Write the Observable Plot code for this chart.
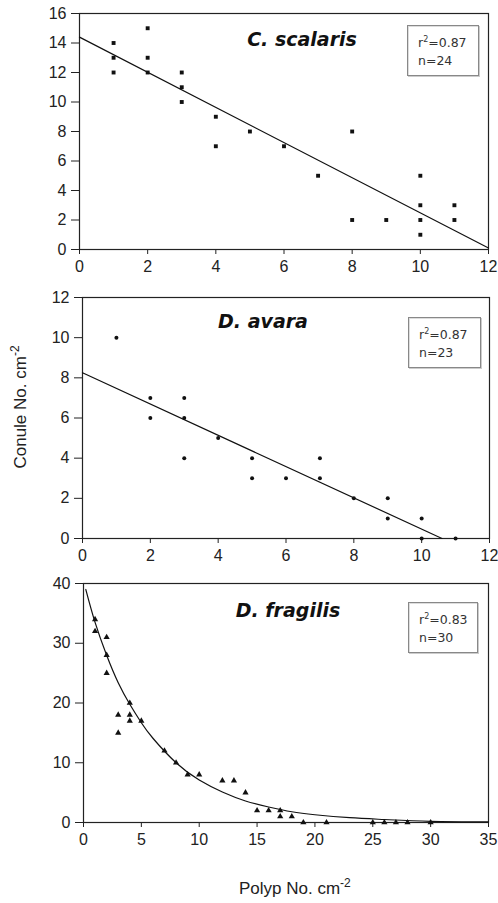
<!DOCTYPE html>
<html>
<head>
<meta charset="utf-8">
<script src="https://cdn.jsdelivr.net/npm/d3@7"></script>
<script src="https://cdn.jsdelivr.net/npm/@observablehq/plot@0.6"></script>
<style>
  html, body { margin: 0; padding: 0; background: #fff; }
  #wrap { position: relative; width: 498px; height: 903px; overflow: hidden; font-family: "Liberation Sans", Arial, sans-serif; color: #222; }
  .panel { position: absolute; left: 0; }
  .stat { position: absolute; box-sizing: border-box; border: 1px solid #888; box-shadow: 1px 1px 0 #ccc, inset 1px 1px 0 #ddd;
          font-family: "DejaVu Sans", sans-serif; font-size: 12.5px; color: #333; padding: 8px 0 0 10px; line-height: 18px; background: #fff; }
  .stat sup { font-size: 8px; vertical-align: 5px; line-height: 0; }
  .axlab { position: absolute; font-size: 17px; color: #222; white-space: nowrap; }
  .axlab sup { font-size: 12px; vertical-align: 7px; line-height: 0; }
</style>
</head>
<body>
<div id="wrap"></div>
<script>
// ---- data ----
const titles = ["C. scalaris", "D. avara", "D. fragilis"];
const r2Values = ["0.87", "0.87", "0.83"];
const nValues = [24, 23, 30];

const scalarisX = [1,1,1,2,2,2,3,3,3,4,4,5,6,7,8,8,9,10,10,10,10,11,11];
const scalarisY = [14,13,12,15,13,12,12,11,10,9,7,8,7,5,8,2,2,5,3,2,1,3,2];
const scalarisFitX = [0, 12];
const scalarisFitY = [14.4, 0.1];

const avaraX = [1,2,2,3,3,3,4,5,5,6,7,7,8,9,9,10,10,11];
const avaraY = [10,7,6,7,6,4,5,4,3,3,4,3,2,2,1,1,0,0];
const avaraFitX = [0, 10.6];
const avaraFitY = [8.25, 0];

const fragilisX = [1,1,2,2,2,3,3,4,4,4,5,7,8,9,10,12,13,14,15,16,17,17,18,19,21,25,26,27,28,30];
const fragilisY = [34,32,31,28,25,18,15,20,18,17,17,12,10,8,8,7,7,5,2,2,2,1,1,0,0,0,0,0,0,0];
const fragilisFitX = [0.2,1,2,3,4,5,6,8,10,12,14,16,18,20,23,26,30,35];
const fragilisFitY = [39,33.5,28,23.4,19.8,16.7,14.1,10,7.1,5.1,3.6,2.6,1.8,1.3,0.8,0.5,0.2,0.1];

const xTicksA = [0,2,4,6,8,10,12];
const yTicks1 = [0,2,4,6,8,10,12,14,16];
const yTicks2 = [0,2,4,6,8,10,12];
const xTicks3 = [0,5,10,15,20,25,30,35];
const yTicks3 = [0,10,20,30,40];

// ---- drawing ----
const wrap = document.getElementById("wrap");

function panel(cfg) {
  const p = Plot.plot({
    width: 498,
    height: cfg.height,
    marginLeft: cfg.ml, marginRight: cfg.mr, marginTop: cfg.mt, marginBottom: cfg.mb,
    style: { fontFamily: '"Liberation Sans", Arial, sans-serif', fontSize: "16px", color: "#222", background: "transparent" },
    x: { domain: cfg.xDomain, ticks: cfg.xTicks, tickSize: 5, tickPadding: 6, label: null },
    y: { domain: cfg.yDomain, ticks: cfg.yTicks, tickSize: 8, tickPadding: 5, label: null },
    marks: [
      Plot.frame({ stroke: "#222", strokeWidth: 1.2 }),
      Plot.line({ length: cfg.fx.length }, { x: cfg.fx, y: cfg.fy, stroke: "#111", strokeWidth: 1.2, curve: cfg.curve || "linear" }),
      Plot.dot({ length: cfg.px.length }, { x: cfg.px, y: cfg.py, symbol: cfg.symbol, r: cfg.r, fill: "#111", stroke: "none" }),
      Plot.text([cfg.title], { text: d => d, frameAnchor: "top", lineAnchor: "middle", dx: cfg.tdx, dy: cfg.tdy,
        fontFamily: '"DejaVu Sans", sans-serif', fontWeight: "bold", fontStyle: "italic", fontSize: 19, fill: "#111" })
    ]
  });
  p.classList.add("panel");
  p.style.top = cfg.top + "px";
  wrap.appendChild(p);
}

panel({ top: 0, height: 275, ml: 79, mr: 10, mt: 13, mb: 26,
  xDomain: [0, 12], xTicks: xTicksA, yDomain: [0, 16], yTicks: yTicks1,
  px: scalarisX, py: scalarisY, fx: scalarisFitX, fy: scalarisFitY,
  symbol: "square", r: 2.2, title: titles[0], tdx: 18, tdy: 26 });

panel({ top: 275, height: 289, ml: 82, mr: 9, mt: 22, mb: 26,
  xDomain: [0, 12], xTicks: xTicksA, yDomain: [0, 12], yTicks: yTicks2,
  px: avaraX, py: avaraY, fx: avaraFitX, fy: avaraFitY,
  symbol: "circle", r: 2, title: titles[1], tdx: -23, tdy: 24 });

panel({ top: 564, height: 288, ml: 83, mr: 10, mt: 19, mb: 30,
  xDomain: [0, 35], xTicks: xTicks3, yDomain: [0, 40], yTicks: yTicks3,
  px: fragilisX, py: fragilisY, fx: fragilisFitX, fy: fragilisFitY, curve: "natural",
  symbol: "triangle", r: 2.3, title: titles[2], tdx: 2, tdy: 27 });

// stats boxes
const boxes = [
  { left: 407, top: 25, w: 72, h: 51 },
  { left: 408, top: 317, w: 73, h: 51 },
  { left: 408, top: 602, w: 70, h: 51 }
];
boxes.forEach((b, i) => {
  const d = document.createElement("div");
  d.className = "stat";
  Object.assign(d.style, { left: b.left + "px", top: b.top + "px", width: b.w + "px", height: b.h + "px" });
  d.innerHTML = `r<sup>2</sup>=${r2Values[i]}<br>n=${nValues[i]}`;
  wrap.appendChild(d);
});

// axis labels
const yl = document.createElement("div");
yl.className = "axlab";
yl.innerHTML = "Conule No. cm<sup>-2</sup>";
wrap.appendChild(yl);
const ylw = yl.offsetWidth, ylh = yl.offsetHeight;
Object.assign(yl.style, { left: (20 - ylw / 2) + "px", top: (407 - ylh / 2) + "px", transform: "rotate(-90deg)" });

const xl = document.createElement("div");
xl.className = "axlab";
xl.innerHTML = "Polyp No. cm<sup>-2</sup>";
wrap.appendChild(xl);
const xlw = xl.offsetWidth, xlh = xl.offsetHeight;
Object.assign(xl.style, { left: (295 - xlw / 2) + "px", top: (889 - xlh / 2) + "px" });
</script>
</body>
</html>
